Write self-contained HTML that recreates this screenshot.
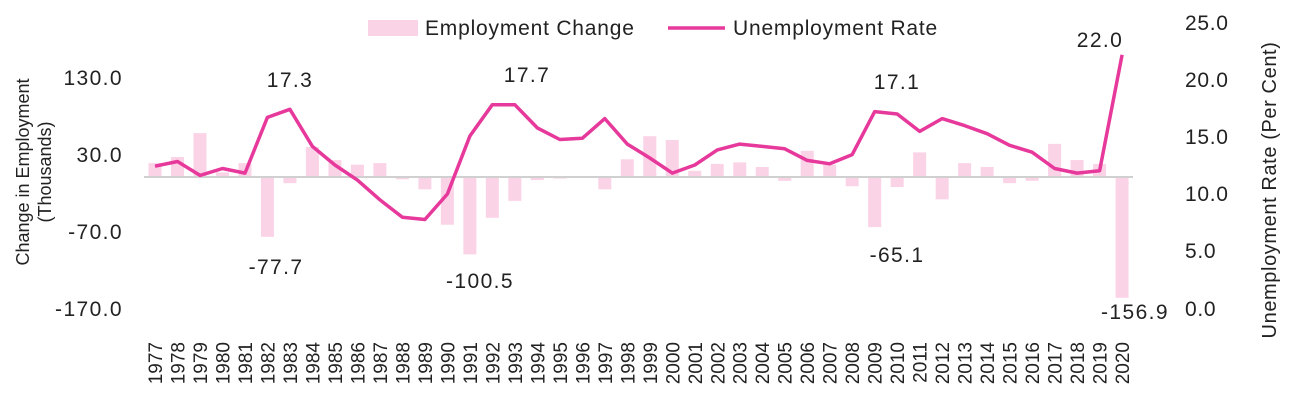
<!DOCTYPE html>
<html><head><meta charset="utf-8"><style>
html,body{margin:0;padding:0;background:#fff;}
svg text{font-family:"Liberation Sans",sans-serif;fill:#222;}
.n{font-size:21px;letter-spacing:1.4px;}
</style></head><body>
<svg id="c" width="1300" height="404" xmlns="http://www.w3.org/2000/svg">
<rect x="368" y="20" width="50" height="16" fill="#fbd3e7"/>
<text x="425" y="35" font-size="21" letter-spacing="0.8">Employment Change</text>
<line x1="668" y1="28" x2="725" y2="28" stroke="#e6399b" stroke-width="3.5"/>
<text x="733" y="35" font-size="21" letter-spacing="0.8">Unemployment Rate</text>
<g class="n" text-anchor="end">
<text x="123" y="85">130.0</text>
<text x="123" y="162">30.0</text>
<text x="123" y="239">-70.0</text>
<text x="123" y="316">-170.0</text>
</g>
<g font-size="21" letter-spacing="0.7">
<text x="1185" y="30">25.0</text>
<text x="1185" y="87">20.0</text>
<text x="1185" y="144">15.0</text>
<text x="1185" y="201">10.0</text>
<text x="1185" y="258">5.0</text>
<text x="1185" y="316">0.0</text>
</g>
<text transform="translate(29,172) rotate(-90)" font-size="18" text-anchor="middle">Change in Employment</text>
<text transform="translate(51,172) rotate(-90)" font-size="18" text-anchor="middle">(Thousands)</text>
<text transform="translate(1276,190) rotate(-90)" font-size="20" letter-spacing="0.6" text-anchor="middle">Unemployment Rate (Per Cent)</text>
<g id="bars"></g>
<line x1="144" y1="177" x2="1133" y2="177" stroke="#d0d0d0" stroke-width="2"/>
<g id="years" font-size="19"></g>
<polyline id="ln" fill="none" stroke="#e6399b" stroke-width="3.5" stroke-linejoin="round"/>
<g class="n" text-anchor="middle">
<text x="290" y="87">17.3</text>
<text x="276" y="274">-77.7</text>
<text x="527" y="82">17.7</text>
<text x="480" y="288">-100.5</text>
<text x="897" y="89">17.1</text>
<text x="897" y="262">-65.1</text>
<text x="1100" y="47">22.0</text>
<text x="1135" y="319">-156.9</text>
</g>
</svg>
<script>
var emp=[18,26,57,6,18,-77.7,-8,39,22,16,18,-3,-16,-62,-100.5,-53,-31,-4,-2,0,-16,23,53,48,8,17,19,13,-5,34,16,-12,-65.1,-13,32,-29,18,13,-8,-5,43,22,17,-156.9];
var ur=[12.4,12.8,11.6,12.2,11.8,16.6,17.3,14.1,12.5,11.2,9.5,8.0,7.8,10.0,15.0,17.7,17.7,15.7,14.7,14.8,16.5,14.3,13.1,11.8,12.5,13.8,14.3,14.1,13.9,12.9,12.6,13.4,17.1,16.9,15.4,16.5,15.9,15.2,14.2,13.6,12.2,11.8,12.0,22.0];
var ns="http://www.w3.org/2000/svg",b=document.getElementById('bars'),yg=document.getElementById('years'),pts=[];
for(var i=0;i<44;i++){var x=155+i*22.49;
var r=document.createElementNS(ns,'rect');var h=emp[i]*0.77;
r.setAttribute('x',x-6.5);r.setAttribute('width',13);r.setAttribute('y',h>0?177-h:177);r.setAttribute('height',Math.abs(h));r.setAttribute('fill','#fbd3e7');b.appendChild(r);
var t=document.createElementNS(ns,'text');t.setAttribute('transform','translate('+(x+7)+',342) rotate(-90)');t.setAttribute('text-anchor','end');t.textContent=1977+i;yg.appendChild(t);
pts.push(x.toFixed(1)+','+(310-ur[i]*11.6).toFixed(1));}
document.getElementById('ln').setAttribute('points',pts.join(' '));
</script>
</body></html>
